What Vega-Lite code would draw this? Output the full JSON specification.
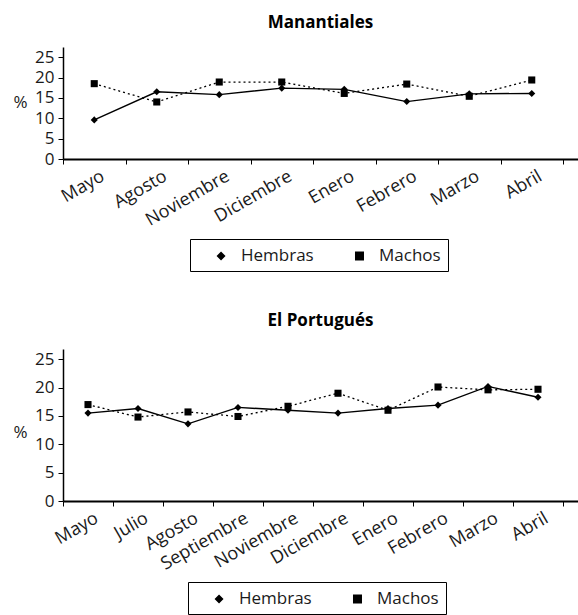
{
  "$schema": "https://vega.github.io/schema/vega-lite/v6.json",
  "background": "white",
  "padding": {"left": 12, "top": 14, "right": 0, "bottom": 0},
  "datasets": {
    "manantiales": [
      {"mes": "Mayo", "sexo": "Hembras", "pct": 9.6},
      {"mes": "Agosto", "sexo": "Hembras", "pct": 16.5},
      {"mes": "Noviembre", "sexo": "Hembras", "pct": 15.8},
      {"mes": "Diciembre", "sexo": "Hembras", "pct": 17.4},
      {"mes": "Enero", "sexo": "Hembras", "pct": 17.1},
      {"mes": "Febrero", "sexo": "Hembras", "pct": 14.1},
      {"mes": "Marzo", "sexo": "Hembras", "pct": 16.0},
      {"mes": "Abril", "sexo": "Hembras", "pct": 16.1},
      {"mes": "Mayo", "sexo": "Machos", "pct": 18.5},
      {"mes": "Agosto", "sexo": "Machos", "pct": 14.0},
      {"mes": "Noviembre", "sexo": "Machos", "pct": 18.9},
      {"mes": "Diciembre", "sexo": "Machos", "pct": 18.9},
      {"mes": "Enero", "sexo": "Machos", "pct": 16.1},
      {"mes": "Febrero", "sexo": "Machos", "pct": 18.4},
      {"mes": "Marzo", "sexo": "Machos", "pct": 15.4},
      {"mes": "Abril", "sexo": "Machos", "pct": 19.4}
    ],
    "portugues": [
      {"mes": "Mayo", "sexo": "Hembras", "pct": 15.5},
      {"mes": "Julio", "sexo": "Hembras", "pct": 16.3},
      {"mes": "Agosto", "sexo": "Hembras", "pct": 13.6},
      {"mes": "Septiembre", "sexo": "Hembras", "pct": 16.5},
      {"mes": "Noviembre", "sexo": "Hembras", "pct": 16.0},
      {"mes": "Diciembre", "sexo": "Hembras", "pct": 15.5},
      {"mes": "Enero", "sexo": "Hembras", "pct": 16.3},
      {"mes": "Febrero", "sexo": "Hembras", "pct": 16.9},
      {"mes": "Marzo", "sexo": "Hembras", "pct": 20.2},
      {"mes": "Abril", "sexo": "Hembras", "pct": 18.3},
      {"mes": "Mayo", "sexo": "Machos", "pct": 17.0},
      {"mes": "Julio", "sexo": "Machos", "pct": 14.8},
      {"mes": "Agosto", "sexo": "Machos", "pct": 15.7},
      {"mes": "Septiembre", "sexo": "Machos", "pct": 14.9},
      {"mes": "Noviembre", "sexo": "Machos", "pct": 16.7},
      {"mes": "Diciembre", "sexo": "Machos", "pct": 19.0},
      {"mes": "Enero", "sexo": "Machos", "pct": 16.0},
      {"mes": "Febrero", "sexo": "Machos", "pct": 20.1},
      {"mes": "Marzo", "sexo": "Machos", "pct": 19.6},
      {"mes": "Abril", "sexo": "Machos", "pct": 19.7}
    ]
  },
  "vconcat": [
    {
      "title": {"text": "Manantiales", "fontSize": 17, "fontWeight": "bold", "offset": 15, "anchor": "middle", "frame": "group"},
      "width": 515,
      "height": 112,
      "data": {"name": "manantiales"},
      "encoding": {
        "x": {
          "field": "mes", "type": "nominal",
          "sort": ["Mayo", "Agosto", "Noviembre", "Diciembre", "Enero", "Febrero", "Marzo", "Abril"],
          "scale": {"type": "band", "paddingInner": 0, "paddingOuter": 0.12, "align": 0},
          "axis": {"title": null, "labelAngle": -30, "tickBand": "extent", "domainWidth": 2, "tickSize": 5, "labelOffset": 4, "labelFontSize": 18}
        },
        "y": {
          "field": "pct", "type": "quantitative",
          "scale": {"domain": [0, 27.5], "nice": false},
          "axis": {"title": "%", "values": [0, 5, 10, 15, 20, 25], "titleAngle": 0, "titleAlign": "right", "titleBaseline": "middle", "titleX": -36, "titleY": 55}
        }
      },
      "layer": [
        {
          "transform": [{"filter": "datum.sexo === 'Hembras'"}],
          "mark": {"type": "line", "color": "black", "strokeWidth": 1.4},
          "encoding": {}
        },
        {
          "transform": [{"filter": "datum.sexo === 'Machos'"}],
          "mark": {"type": "line", "color": "black", "strokeWidth": 1.3, "strokeDash": [2, 3]},
          "encoding": {}
        },
        {
          "transform": [{"filter": "datum.sexo === 'Machos'"}],
          "mark": {"type": "point", "shape": "square", "filled": true, "opacity": 1, "size": 50, "color": "black"}
        },
        {
          "transform": [{"filter": "datum.sexo === 'Hembras'"}],
          "mark": {"type": "point", "shape": "diamond", "filled": true, "opacity": 1, "size": 50, "color": "black"}
        },
        {
          "mark": {"type": "point", "filled": true, "opacity": 0, "color": "black", "stroke": "black", "strokeWidth": 1.4},
          "encoding": {
            "shape": {
              "field": "sexo", "type": "nominal",
              "scale": {
                "domain": ["Hembras", "Machos"],
                "range": [
                  "M-0.11,0H3.22M1.56,-0.5L2.06,0L1.56,0.5L1.06,0Z",
                  "M-0.11,0H0.11M0.44,0H0.67M2.33,0H2.56M2.89,0H3.11M1.11,-0.5H2.11V0.5H1.11Z"
                ]
              },
              "legend": {
                "title": null, "orient": "none", "legendX": 127, "legendY": 192, "direction": "horizontal",
                "padding": 7, "strokeColor": "black", "labelFontSize": 17, "symbolSize": 324,
                "symbolOpacity": 1, "symbolFillColor": "black", "symbolStrokeColor": "black", "symbolStrokeWidth": 1.4,
                "labelOffset": 24, "columnPadding": 21
              }
            }
          }
        }
      ]
    },
    {
      "title": {"text": "El Portugués", "fontSize": 17, "fontWeight": "bold", "offset": 19, "anchor": "middle", "frame": "group"},
      "width": 515,
      "height": 152,
      "data": {"name": "portugues"},
      "encoding": {
        "x": {
          "field": "mes", "type": "nominal",
          "sort": ["Mayo", "Julio", "Agosto", "Septiembre", "Noviembre", "Diciembre", "Enero", "Febrero", "Marzo", "Abril"],
          "scale": {"type": "band", "paddingInner": 0, "paddingOuter": 0.15, "align": 0},
          "axis": {"title": null, "labelAngle": -30, "tickBand": "extent", "domainWidth": 2, "tickSize": 5, "labelOffset": 4, "labelFontSize": 18}
        },
        "y": {
          "field": "pct", "type": "quantitative",
          "scale": {"domain": [0, 26.8], "nice": false},
          "axis": {"title": "%", "values": [0, 5, 10, 15, 20, 25], "titleAngle": 0, "titleAlign": "right", "titleBaseline": "middle", "titleX": -36, "titleY": 83}
        }
      },
      "layer": [
        {
          "transform": [{"filter": "datum.sexo === 'Hembras'"}],
          "mark": {"type": "line", "color": "black", "strokeWidth": 1.4},
          "encoding": {}
        },
        {
          "transform": [{"filter": "datum.sexo === 'Machos'"}],
          "mark": {"type": "line", "color": "black", "strokeWidth": 1.3, "strokeDash": [2, 3]},
          "encoding": {}
        },
        {
          "transform": [{"filter": "datum.sexo === 'Machos'"}],
          "mark": {"type": "point", "shape": "square", "filled": true, "opacity": 1, "size": 50, "color": "black"}
        },
        {
          "transform": [{"filter": "datum.sexo === 'Hembras'"}],
          "mark": {"type": "point", "shape": "diamond", "filled": true, "opacity": 1, "size": 50, "color": "black"}
        },
        {
          "mark": {"type": "point", "filled": true, "opacity": 0, "color": "black", "stroke": "black", "strokeWidth": 1.4},
          "encoding": {
            "shape": {
              "field": "sexo", "type": "nominal",
              "scale": {
                "domain": ["Hembras", "Machos"],
                "range": [
                  "M-0.11,0H3.22M1.56,-0.5L2.06,0L1.56,0.5L1.06,0Z",
                  "M-0.11,0H0.11M0.44,0H0.67M2.33,0H2.56M2.89,0H3.11M1.11,-0.5H2.11V0.5H1.11Z"
                ]
              },
              "legend": {
                "title": null, "orient": "none", "legendX": 125, "legendY": 233, "direction": "horizontal",
                "padding": 7, "strokeColor": "black", "labelFontSize": 17, "symbolSize": 324,
                "symbolOpacity": 1, "symbolFillColor": "black", "symbolStrokeColor": "black", "symbolStrokeWidth": 1.4,
                "labelOffset": 24, "columnPadding": 21
              }
            }
          }
        }
      ]
    }
  ],
  "spacing": 40,
  "resolve": {
    "scale": {"x": "independent", "y": "independent", "shape": "independent"},
    "legend": {"shape": "independent"}
  },
  "config": {
    "font": "Open Sans",
    "view": {"stroke": null},
    "axis": {
      "grid": false,
      "domainColor": "black",
      "tickColor": "black",
      "labelColor": "#1a1a1a",
      "titleColor": "#1a1a1a",
      "labelFontSize": 17,
      "titleFontSize": 17,
      "titleFontWeight": "normal",
      "labelPadding": 3
    },
    "axisY": {"domainWidth": 1.5, "tickSize": 5, "labelPadding": 4},
    "legend": {"labelColor": "#1a1a1a"},
    "title": {"color": "black"}
  }
}
